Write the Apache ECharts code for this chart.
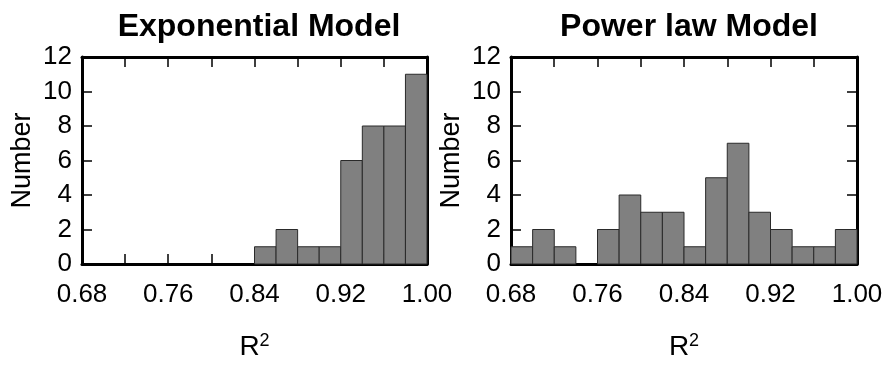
<!DOCTYPE html>
<html>
<head>
<meta charset="utf-8">
<script src="https://cdn.jsdelivr.net/npm/echarts@6/dist/echarts.min.js"></script>
<style>
  html, body { margin: 0; padding: 0; background: #fff; }
  #chart { width: 893px; height: 369px; }
</style>
</head>
<body>
<div id="chart"></div>
<script>
// histogram bins (left edges), width 0.02
var binStarts = [0.68, 0.70, 0.72, 0.74, 0.76, 0.78, 0.80, 0.82, 0.84, 0.86, 0.88, 0.90, 0.92, 0.94, 0.96, 0.98];
var binWidth = 0.02;
var expCounts = [0, 0, 0, 0, 0, 0, 0, 0, 1, 2, 1, 1, 6, 8, 8, 11];
var powCounts = [1, 2, 1, 0, 2, 4, 3, 3, 1, 5, 7, 3, 2, 1, 1, 2];
var xLabels = ['0.68', '0.76', '0.84', '0.92', '1.00'];
var titles = ['Exponential Model', 'Power law Model'];

var font = "'Liberation Sans', Arial, sans-serif";

function toData(counts) {
  return binStarts.map(function (s, i) {
    return [s, s + binWidth, counts[i]];
  });
}

function renderItem(params, api) {
  var y = api.value(2);
  if (!y) return;
  var p0 = api.coord([api.value(0), 0]);
  var p1 = api.coord([api.value(1), y]);
  return {
    type: 'rect',
    shape: { x: p0[0], y: p1[1], width: p1[0] - p0[0], height: p0[1] - p1[1] },
    style: { fill: '#808080', stroke: '#2a2a2a', lineWidth: 1 }
  };
}

var line = { show: true, onZero: false, lineStyle: { color: '#000', width: 3 } };
var tick = { show: true, inside: true, length: 10, lineStyle: { color: '#000', width: 1.5 } };

function xAxis(grid, pos, main) {
  return {
    type: 'value', gridIndex: grid, position: pos,
    min: 0.68, max: 1.0, interval: 0.04,
    axisLine: line, axisTick: tick, splitLine: { show: false },
    axisLabel: {
      show: main, margin: 18, color: '#000', fontSize: 26, fontFamily: font,
      formatter: function (v) {
        var s = v.toFixed(2);
        return xLabels.indexOf(s) >= 0 ? s : '';
      }
    },
    name: main ? '{r|R}{s|2}' : '', nameLocation: 'middle', nameGap: 68,
    nameTextStyle: {
      color: '#000', fontFamily: font,
      rich: {
        r: { fontSize: 28, lineHeight: 30, fontFamily: font, color: '#000' },
        s: { fontSize: 18, lineHeight: 30, fontFamily: font, color: '#000', verticalAlign: 'top' }
      }
    }
  };
}

function yAxis(grid, pos, main) {
  return {
    type: 'value', gridIndex: grid, position: pos,
    min: 0, max: 12, interval: 2,
    axisLine: line, axisTick: tick, splitLine: { show: false },
    axisLabel: { show: main, margin: 10, color: '#000', fontSize: 26, fontFamily: font },
    name: main ? 'Number' : '', nameLocation: 'middle', nameGap: 46,
    nameTextStyle: { color: '#000', fontSize: 27, fontFamily: font }
  };
}

var myChart = echarts.init(document.getElementById('chart'));

myChart.setOption({
  animation: false,
  backgroundColor: '#fff',
  title: [
    { text: titles[0], left: 254, top: 6, textAlign: 'center',
      textStyle: { fontSize: 32, fontWeight: 'bold', color: '#000', fontFamily: font } },
    { text: titles[1], left: 684, top: 6, textAlign: 'center',
      textStyle: { fontSize: 32, fontWeight: 'bold', color: '#000', fontFamily: font } }
  ],
  grid: [
    { left: 82, right: 466, top: 57, bottom: 105 },
    { left: 511, right: 36, top: 57, bottom: 105 }
  ],
  xAxis: [
    xAxis(0, 'bottom', true), xAxis(0, 'top', false),
    xAxis(1, 'bottom', true), xAxis(1, 'top', false)
  ],
  yAxis: [
    yAxis(0, 'left', true), yAxis(0, 'right', false),
    yAxis(1, 'left', true), yAxis(1, 'right', false)
  ],
  series: [
    { type: 'custom', xAxisIndex: 0, yAxisIndex: 0, renderItem: renderItem,
      encode: { x: [0, 1], y: 2 }, data: toData(expCounts) },
    { type: 'custom', xAxisIndex: 2, yAxisIndex: 2, renderItem: renderItem,
      encode: { x: [0, 1], y: 2 }, data: toData(powCounts) }
  ]
});
</script>
</body>
</html>
